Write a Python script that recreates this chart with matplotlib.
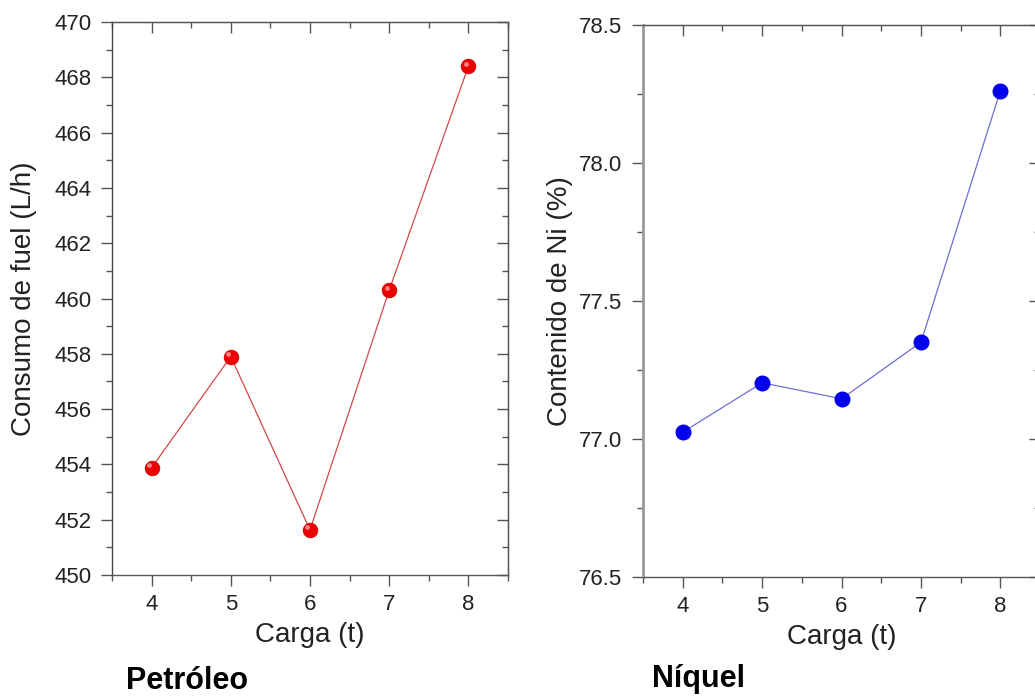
import numpy as np
import matplotlib
matplotlib.use('Agg')
import matplotlib.pyplot as plt
from matplotlib.ticker import MultipleLocator, FormatStrFormatter
from matplotlib.transforms import offset_copy

plt.rcParams['font.family'] = ['Liberation Sans', 'DejaVu Sans']

carga = [4, 5, 6, 7, 8]
fuel = [453.88, 457.9, 451.63, 460.3, 468.4]
niquel = [77.024, 77.203, 77.145, 77.35, 78.262]

fig = plt.figure(figsize=(10.35, 6.97), dpi=100)

ax1 = fig.add_axes([0.1082, 0.175, 0.3826, 0.7934])
ax2 = fig.add_axes([0.6213, 0.1726, 0.3836, 0.7915])


def mirror_ticks(sec, major, minor, which_axis):
    axis = sec.xaxis if which_axis == 'x' else sec.yaxis
    axis.set_major_locator(MultipleLocator(major))
    axis.set_minor_locator(MultipleLocator(minor))
    sec.tick_params(axis=which_axis, which='both', direction='in', colors='#555555',
                    labeltop=False, labelright=False, width=1.0)
    sec.tick_params(which='major', length=8)
    sec.tick_params(which='minor', length=4.5)


def style_axes(ax, left_color, left_width):
    for side in ['top', 'right', 'bottom']:
        ax.spines[side].set_color('#555555')
        ax.spines[side].set_linewidth(1.0)
    ax.spines['left'].set_color(left_color)
    ax.spines['left'].set_linewidth(left_width)
    ax.xaxis.set_major_locator(MultipleLocator(1))
    ax.xaxis.set_minor_locator(MultipleLocator(0.5))
    ax.set_xlim(3.5, 8.5)
    ax.tick_params(axis='both', which='both', colors='#555555', labelcolor='#222222',
                   labelsize=16, width=1.0)
    ax.tick_params(axis='both', which='major', length=8)
    ax.tick_params(axis='both', which='minor', length=4.5)
    ax.tick_params(axis='y', which='both', direction='out', left=True, right=False, pad=7)
    ax.tick_params(axis='x', which='both', direction='out', bottom=True, top=False, pad=6)
    sec_x = ax.secondary_xaxis('top')
    mirror_ticks(sec_x, 1, 0.5, 'x')
    sec_x.spines['top'].set_color('#555555')


# left panel: fuel consumption
style_axes(ax1, '#444444', 1.0)
ax1.plot(carga, fuel, '-', color='#d44848', lw=0.9, zorder=2)
ax1.plot(carga, fuel, 'o', color='#ee0000', ms=10.5, mec='#d00000', mew=0.6, zorder=3)
hl = offset_copy(ax1.transData, fig=fig, x=-2.5, y=2.5, units='dots')
ax1.plot(carga, fuel, 'o', color='#ff8080', ms=3.5, mew=0, zorder=4, transform=hl)
ax1.set_ylim(450, 470)
ax1.yaxis.set_major_locator(MultipleLocator(2))
ax1.yaxis.set_minor_locator(MultipleLocator(1))
sec_y1 = ax1.secondary_yaxis('right')
mirror_ticks(sec_y1, 2, 1, 'y')
ax1.set_ylabel('Consumo de fuel (L/h)', fontsize=20, color='#222222', labelpad=12)
ax1.set_xlabel('Carga (t)', fontsize=20, color='#222222', labelpad=5)

# right panel: nickel content
style_axes(ax2, '#999999', 2.0)
ax2.plot(carga, niquel, '-', color='#6e6ed6', lw=0.9, zorder=2)
ax2.plot(carga, niquel, 'o', color='#0000ee', ms=10.5, mec='#0000ee', zorder=3)
ax2.set_ylim(76.5, 78.5)
ax2.yaxis.set_major_locator(MultipleLocator(0.5))
ax2.yaxis.set_minor_locator(MultipleLocator(0.25))
ax2.yaxis.set_major_formatter(FormatStrFormatter('%.1f'))
sec_y2 = ax2.secondary_yaxis('right')
mirror_ticks(sec_y2, 0.5, 0.25, 'y')
ax2.set_ylabel('Contenido de Ni (%)', fontsize=20, color='#222222', labelpad=4)
ax2.set_xlabel('Carga (t)', fontsize=20, color='#222222', labelpad=5)

fig.text(0.1807, 0.012, 'Petróleo', fontsize=22, fontweight='bold', ha='center', va='baseline')
fig.text(0.6745, 0.014, 'Níquel', fontsize=22, fontweight='bold', ha='center', va='baseline')

fig.savefig('out.png', dpi=100)
